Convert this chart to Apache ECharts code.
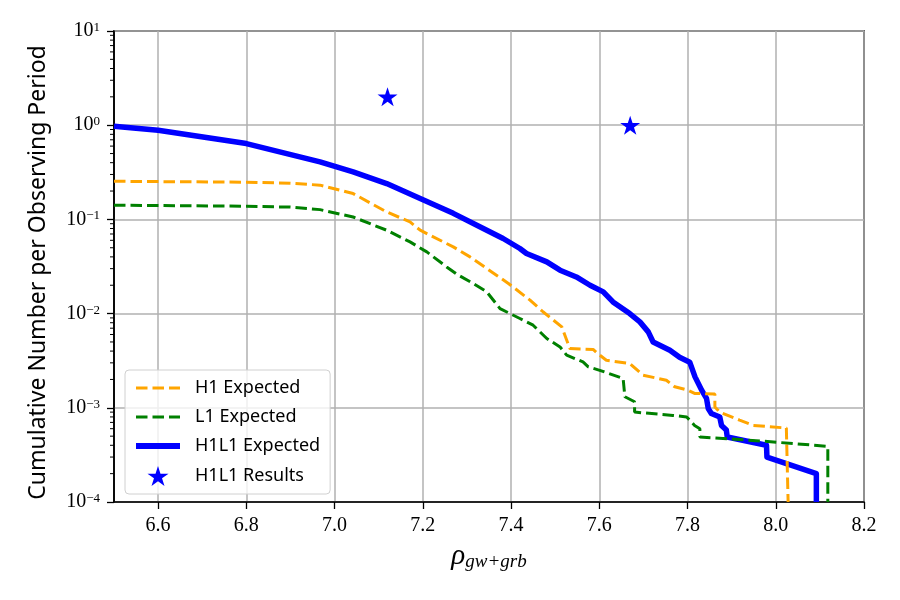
<!DOCTYPE html>
<html>
<head>
<meta charset="utf-8">
<script src="https://cdn.jsdelivr.net/npm/echarts@6/dist/echarts.min.js"></script>
<style>
  html, body { margin: 0; padding: 0; background: #fff; }
  #chart { width: 900px; height: 600px; }
</style>
</head>
<body>
<div id="chart"></div>
<script>
// x tick labels
const xTicks = [6.6, 6.8, 7.0, 7.2, 7.4, 7.6, 7.8, 8.0, 8.2];

// H1 Expected (orange, dashed)
const h1Rho = [6.50, 6.80, 6.90, 6.967, 7.042, 7.118, 7.171, 7.194, 7.269, 7.307, 7.345, 7.394, 7.443, 7.473,
  7.515, 7.529, 7.533, 7.586, 7.601, 7.616, 7.669, 7.699, 7.752, 7.771, 7.801, 7.816, 7.862, 7.862, 7.873,
  7.918, 7.949, 8.024, 8.028];
const h1Rate = [0.254, 0.248, 0.242, 0.231, 0.188, 0.120, 0.094, 0.0768, 0.0511, 0.040, 0.0301, 0.0209, 0.0139, 0.0104,
  0.00723, 0.00482, 0.00426, 0.00416, 0.00362, 0.0032, 0.00295, 0.00222, 0.00196, 0.00167, 0.00154, 0.00142, 0.00140, 0.00102, 0.0009,
  0.00074, 0.00065, 0.00061, 0.0001];

// L1 Expected (green, dashed)
const l1Rho = [6.50, 6.80, 6.90, 6.967, 7.042, 7.118, 7.171, 7.209, 7.254, 7.277, 7.314, 7.345, 7.375, 7.420,
  7.450, 7.481, 7.511, 7.526, 7.563, 7.575, 7.601, 7.654, 7.658, 7.680, 7.680, 7.767, 7.798, 7.805, 7.816,
  7.828, 7.828, 7.964, 8.118, 8.118];
const l1Rate = [0.1415, 0.138, 0.135, 0.127, 0.106, 0.0768, 0.0577, 0.0452, 0.0313, 0.0262, 0.0209, 0.0170, 0.0113, 0.00887,
  0.00753, 0.00544, 0.00443, 0.00362, 0.00307, 0.00272, 0.0025, 0.00205, 0.00131, 0.00116, 0.0009, 0.00083, 0.0008, 0.00074, 0.00065,
  0.0006, 0.00049, 0.000445, 0.00039, 0.0001];

// H1L1 Expected (blue, thick)
const h1l1Rho = [6.50, 6.60, 6.80, 6.967, 7.042, 7.118, 7.194, 7.269, 7.337, 7.382, 7.420, 7.435, 7.481, 7.511,
  7.548, 7.579, 7.609, 7.631, 7.669, 7.692, 7.711, 7.722, 7.760, 7.782, 7.805, 7.817, 7.832, 7.843, 7.847,
  7.854, 7.873, 7.877, 7.888, 7.890, 7.979, 7.980, 8.092, 8.092];
const h1l1Rate = [0.976, 0.885, 0.638, 0.408, 0.319, 0.240, 0.167, 0.116, 0.080, 0.0627, 0.0491, 0.0435, 0.0354, 0.0289,
  0.0245, 0.0200, 0.0170, 0.0133, 0.0100, 0.00817, 0.0064, 0.0050, 0.00408, 0.00344, 0.00305, 0.00213, 0.00154, 0.00126, 0.00098,
  0.00087, 0.0008, 0.00065, 0.00058, 0.00049, 0.0004, 0.0003, 0.0002, 0.0001];

// H1L1 Results (stars)
const resultRho = [7.12, 7.67];
const resultRate = [2.0, 1.0];

const starPath = 'path://M50 0 L61.23 34.55 L97.55 34.55 L68.17 55.9 L79.39 90.45 L50 69.1 L20.61 90.45 L31.83 55.9 L2.45 34.55 L38.77 34.55 Z';
const serif = 'Liberation Serif';
const sans = 'Noto Sans';

const pairs = (xs, ys) => xs.map((x, i) => [x, ys[i]]);

const chart = echarts.init(document.getElementById('chart'), null, {renderer: 'canvas'});

const option = {
  animation: false,
  backgroundColor: '#fff',
  grid: {
    left: 114, right: 36, top: 31, bottom: 98,
    show: true, borderColor: '#000', borderWidth: 1.6
  },
  legend: {
    orient: 'vertical',
    left: 125, top: 370,
    padding: [9, 10, 8, 8],
    itemWidth: 44, itemHeight: 20, itemGap: 11,
    backgroundColor: 'rgba(255,255,255,0.8)',
    borderColor: '#d0d0d0', borderWidth: 1, borderRadius: 4,
    textStyle: {fontFamily: sans, fontSize: 18, color: '#000', padding: [0, 0, 0, 10]},
    data: [
      {name: 'H1 Expected', itemStyle: {opacity: 0}, lineStyle: {width: 3}},
      {name: 'L1 Expected', itemStyle: {opacity: 0}, lineStyle: {width: 3}},
      {name: 'H1L1 Expected', itemStyle: {opacity: 0}, lineStyle: {width: 6}},
      {name: 'H1L1 Results'}
    ]
  },
  xAxis: {
    type: 'value', min: 6.5, max: 8.2,
    name: '{rho|ρ}{sub|gw+grb}',
    nameLocation: 'middle', nameGap: 40,
    nameTextStyle: {
      rich: {
        rho: {fontFamily: serif, fontStyle: 'italic', fontSize: 29, lineHeight: 29, padding: [0, 0, 3, 0], verticalAlign: 'top', color: '#000'},
        sub: {fontFamily: serif, fontStyle: 'italic', fontSize: 19, lineHeight: 19, verticalAlign: 'bottom', color: '#000'}
      }
    },
    axisLine: {lineStyle: {color: '#000', width: 1.6}},
    axisTick: {length: 7, lineStyle: {color: '#000', width: 1.3}, customValues: xTicks},
    axisLabel: {
      customValues: xTicks, margin: 14,
      fontFamily: serif, fontSize: 20, color: '#000',
      formatter: v => v.toFixed(1)
    },
    splitLine: {show: true, lineStyle: {color: '#b0b0b0', width: 1.5}}
  },
  yAxis: {
    type: 'log', logBase: 10, min: 1e-4, max: 10,
    name: 'Cumulative Number per Observing Period',
    nameLocation: 'middle', nameGap: 64,
    nameTextStyle: {fontFamily: sans, fontSize: 23, color: '#000', padding: [0, 12, 0, 0]},
    axisLine: {lineStyle: {color: '#000', width: 1.6}},
    axisTick: {length: 7, lineStyle: {color: '#000', width: 1.3}},
    axisLabel: {
      margin: 14,
      formatter: v => {
        const e = Math.round(Math.log10(v));
        return '{b|10}{s|' + (e < 0 ? '\u2212' + (-e) : e) + '}';
      },
      rich: {
        b: {fontFamily: serif, fontSize: 20, lineHeight: 20, padding: [3, 0, 0, 0], verticalAlign: 'bottom', color: '#000'},
        s: {fontFamily: serif, fontSize: 13, lineHeight: 14, verticalAlign: 'top', color: '#000'}
      }
    },
    splitLine: {show: true, lineStyle: {color: '#b0b0b0', width: 1.5}}
  },
  series: [
    {
      name: 'H1L1 Expected', type: 'line', z: 2,
      data: pairs(h1l1Rho, h1l1Rate),
      symbol: 'none', clip: true,
      lineStyle: {color: '#0000ff', width: 5.5, cap: 'butt', join: 'round'},
      itemStyle: {color: '#0000ff'}
    },
    {
      name: 'H1 Expected', type: 'line', z: 3,
      data: pairs(h1Rho, h1Rate),
      symbol: 'none', clip: true,
      lineStyle: {color: '#ffa500', width: 3, type: [11.5, 5], cap: 'butt'},
      itemStyle: {color: '#ffa500'}
    },
    {
      name: 'L1 Expected', type: 'line', z: 3,
      data: pairs(l1Rho, l1Rate),
      symbol: 'none', clip: true,
      lineStyle: {color: '#008000', width: 3, type: [11.5, 5], cap: 'butt'},
      itemStyle: {color: '#008000'}
    },
    {
      name: 'H1L1 Results', type: 'scatter', z: 4,
      data: pairs(resultRho, resultRate),
      symbol: starPath, symbolSize: 20, symbolKeepAspect: true,
      itemStyle: {color: '#0000ff', opacity: 1}
    }
  ]
};

chart.setOption(option);

// minor ticks of the log axis (2..9 in each decade), placed through the axis scale
const minor = [];
const x0 = chart.convertToPixel({xAxisIndex: 0}, 6.5);
for (let k = -4; k < 1; k++) {
  for (let m = 2; m <= 9; m++) {
    const py = chart.convertToPixel({yAxisIndex: 0}, m * Math.pow(10, k));
    minor.push({
      type: 'line', silent: true,
      shape: {x1: x0 - 4, y1: py, x2: x0, y2: py},
      style: {stroke: '#000', lineWidth: 1}
    });
  }
}
chart.setOption({graphic: minor});
</script>
</body>
</html>
